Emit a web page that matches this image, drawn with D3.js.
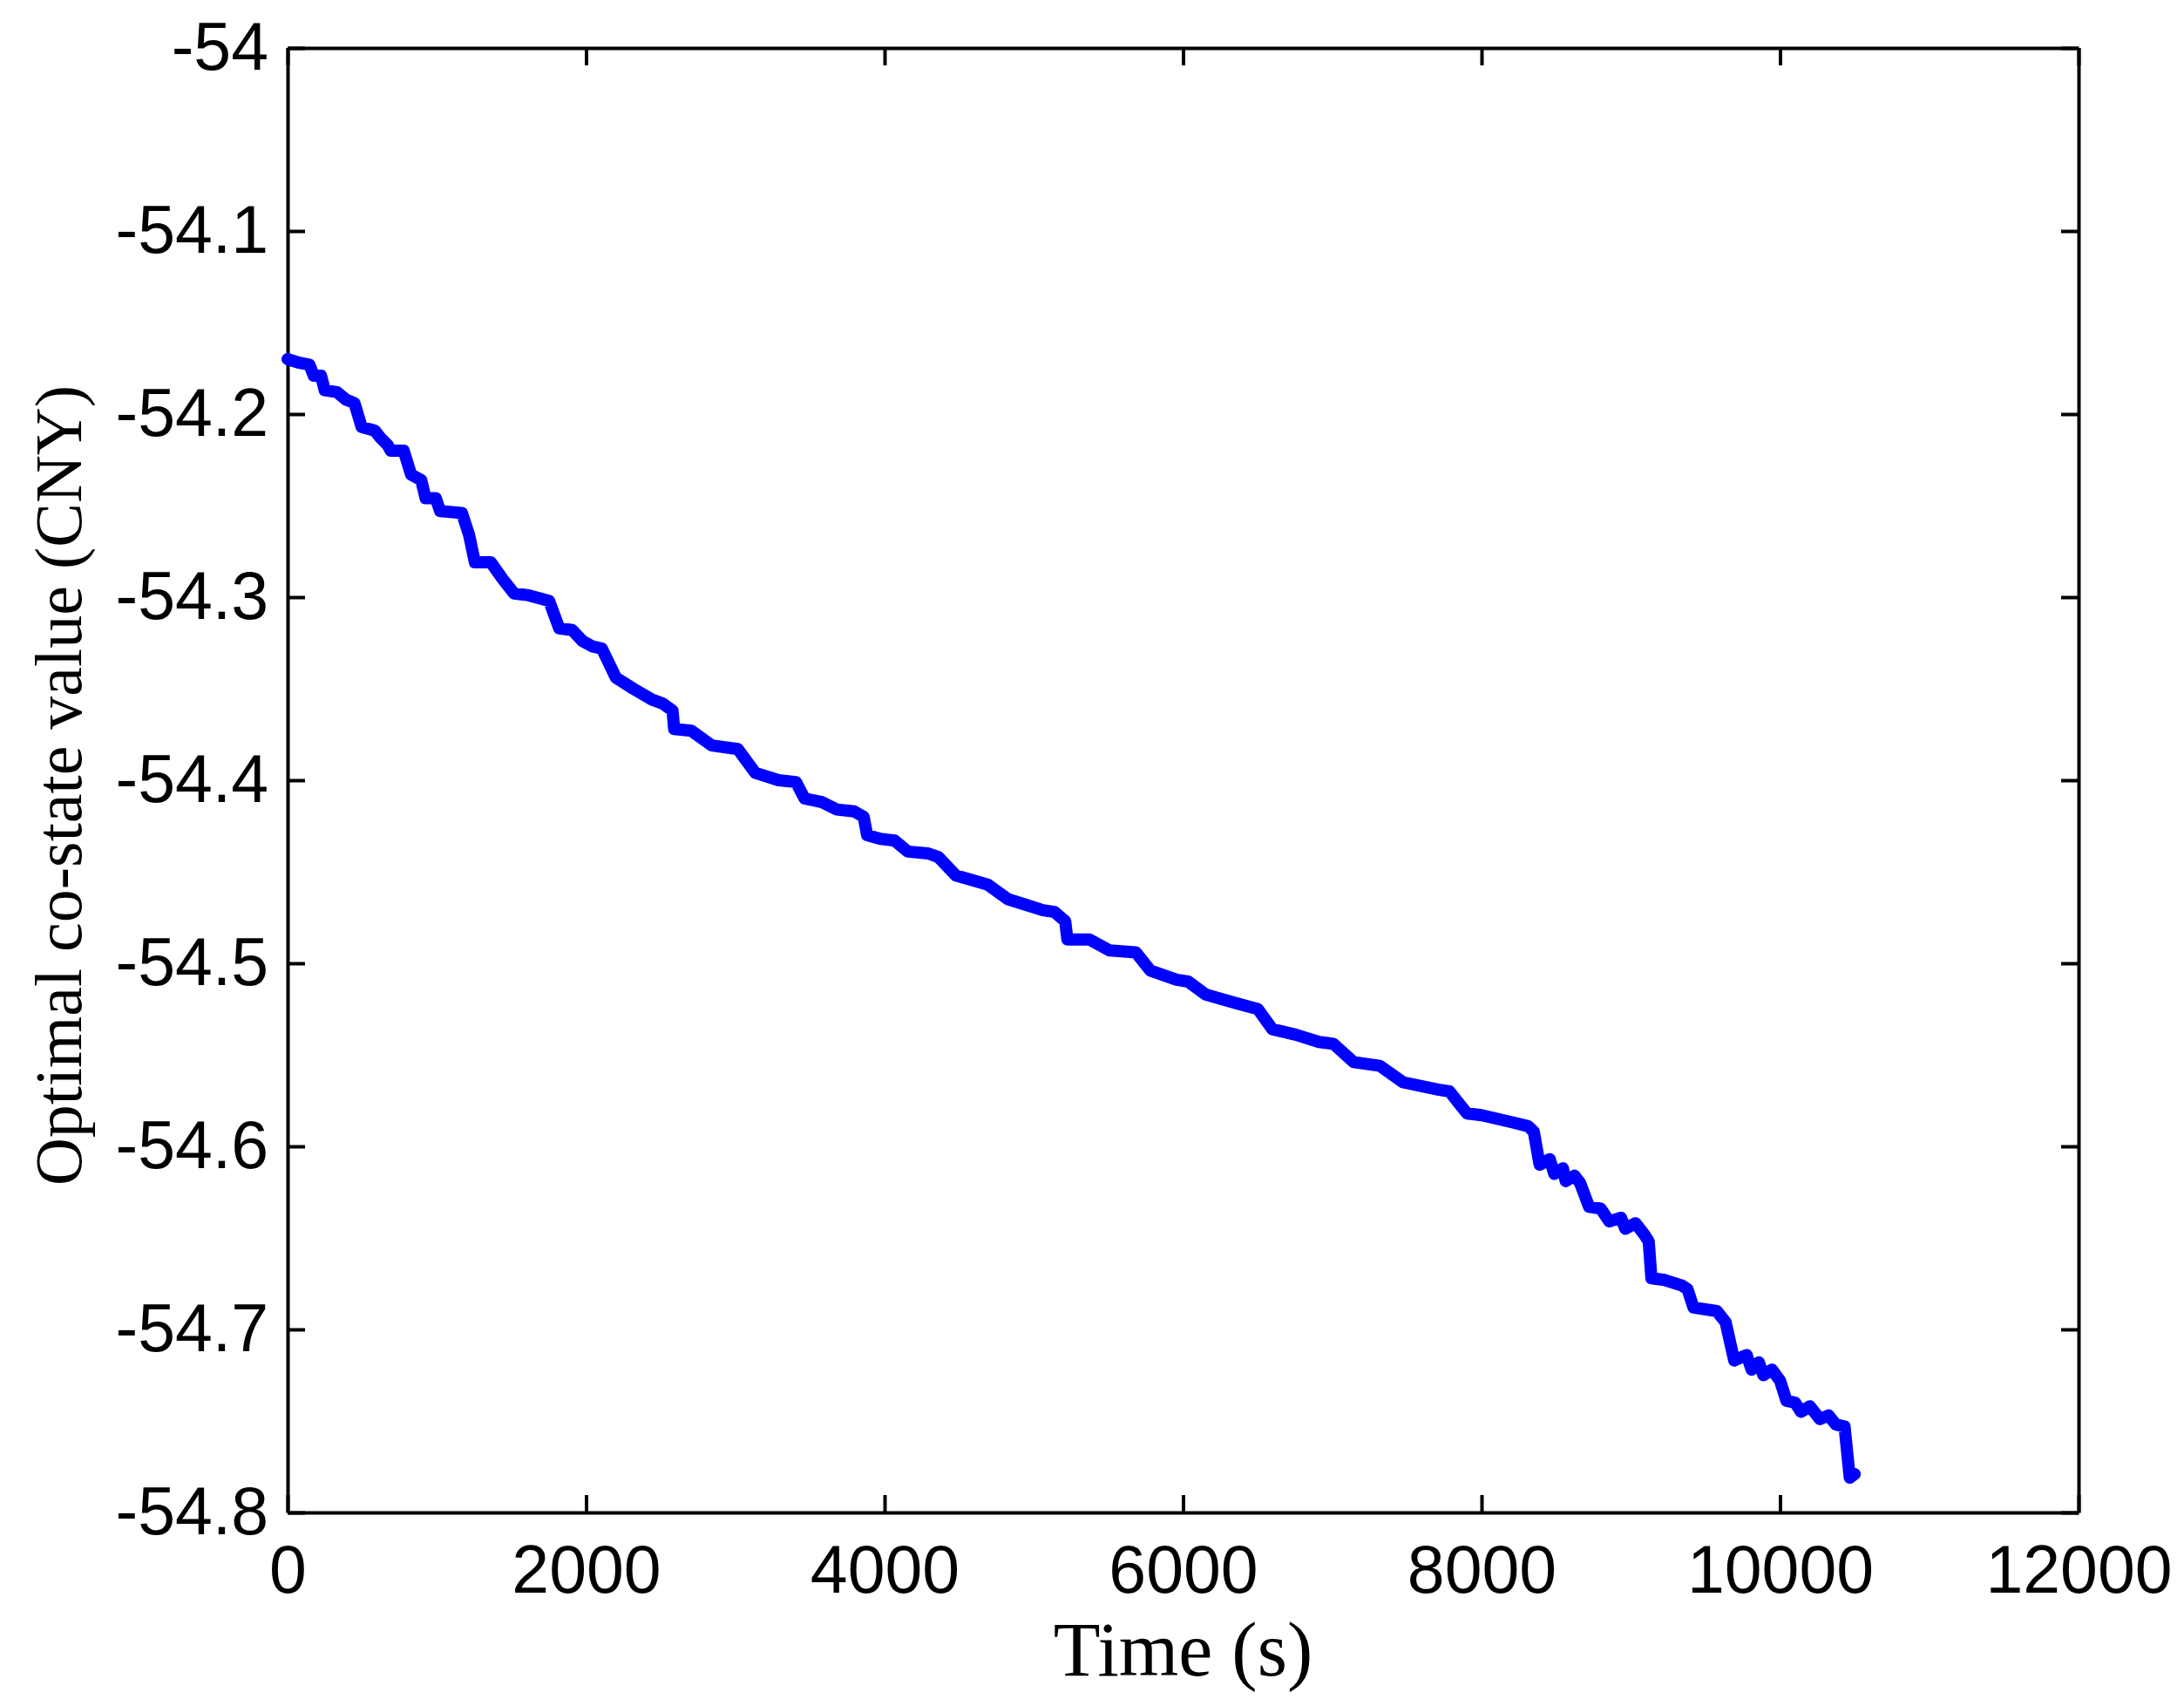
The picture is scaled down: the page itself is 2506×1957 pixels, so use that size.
<!DOCTYPE html>
<html>
<head>
<meta charset="utf-8">
<script src="https://cdn.jsdelivr.net/npm/d3@7"></script>
<style>
body{margin:0;background:#fff;}
.axis path,.axis line{stroke:#000;stroke-width:4;}
.axis text{font-family:"Liberation Sans",Arial,sans-serif;font-size:77px;fill:#000;}
.title{font-family:"Liberation Serif","Times New Roman",serif;fill:#000;}
</style>
</head>
<body>
<svg id="svg" width="2506" height="1957"></svg>
<script>
// time (s) and optimal co-state value (CNY)
var time=[0,80,146,175,224,249,331,389,448,496,584,623,671,691,778,827,895,925,993,1022,
    1168,1216,1255,1362,1440,1518,1616,1752,1820,1907,1976,2044,2105,2200,2316,2443,2511,2579,2590,2705,
    2842,3017,3134,3290,3406,3464,3581,3679,3796,3860,3883,3971,4068,4156,4292,4360,4477,4691,4827,4944,
    5061,5138,5210,5225,5372,5508,5683,5781,5956,6034,6150,6365,6501,6598,6754,6910,7007,7143,7318,7474,
    7708,7785,7902,8000,8214,8311,8350,8389,8457,8487,8545,8564,8623,8660,8720,8798,8856,8934,8963,9031,
    9089,9120,9138,9226,9342,9380,9420,9576,9635,9693,9776,9810,9858,9888,9946,10000,10043,10101,10140,10199,
    10267,10325,10374,10432,10467,10500];
var costate=[-54.170,-54.172,-54.173,-54.179,-54.179,-54.187,-54.188,-54.192,-54.194,-54.207,-54.209,-54.213,-54.217,-54.220,-54.220,-54.233,-54.236,-54.246,-54.246,-54.253,
    -54.254,-54.266,-54.281,-54.281,-54.290,-54.298,-54.299,-54.302,-54.317,-54.318,-54.324,-54.327,-54.328,-54.344,-54.350,-54.356,-54.358,-54.362,-54.372,-54.373,
    -54.381,-54.383,-54.396,-54.400,-54.401,-54.410,-54.412,-54.416,-54.417,-54.420,-54.430,-54.432,-54.433,-54.439,-54.440,-54.442,-54.452,-54.457,-54.465,-54.468,
    -54.471,-54.472,-54.477,-54.487,-54.487,-54.493,-54.494,-54.504,-54.509,-54.510,-54.517,-54.522,-54.525,-54.536,-54.539,-54.543,-54.544,-54.554,-54.556,-54.565,
    -54.569,-54.570,-54.582,-54.583,-54.587,-54.589,-54.592,-54.610,-54.607,-54.615,-54.612,-54.619,-54.616,-54.620,-54.633,-54.634,-54.641,-54.639,-54.645,-54.642,
    -54.648,-54.652,-54.672,-54.673,-54.676,-54.678,-54.688,-54.690,-54.696,-54.717,-54.714,-54.722,-54.718,-54.725,-54.722,-54.728,-54.739,-54.740,-54.745,-54.742,
    -54.749,-54.747,-54.752,-54.753,-54.781,-54.779];

var xTicks=[0,2000,4000,6000,8000,10000,12000];
var yTicks=[-54,-54.1,-54.2,-54.3,-54.4,-54.5,-54.6,-54.7,-54.8];
var yTickLabels=["-54","-54.1","-54.2","-54.3","-54.4","-54.5","-54.6","-54.7","-54.8"];

var svg=d3.select("#svg");

var padding={top:55, right:121, bottom:222, left:330};

var chartArea={
    "width": +svg.attr("width")-padding.left-padding.right,
    "height": +svg.attr("height")-padding.top-padding.bottom
};

var xScale=d3.scaleLinear()
    .domain([0,12000])
    .range([0,chartArea.width]);

var yScale=d3.scaleLinear()
    .domain([-54.8,-54])
    .range([chartArea.height,0]);

var g=svg.append("g")
    .attr('transform','translate('+padding.left+','+padding.top+')');

// x axis (bottom), ticks pointing in
g.append("g")
    .attr("class","axis")
    .attr('transform','translate(0,'+chartArea.height+')')
    .call(d3.axisBottom(xScale)
        .tickValues(xTicks)
        .tickSizeInner(-20).tickSizeOuter(0)
        .tickPadding(37)
        .tickFormat(function(d){return String(d);}));

// top border
g.append("g")
    .attr("class","axis")
    .call(d3.axisTop(xScale)
        .tickValues(xTicks)
        .tickSizeInner(-20).tickSizeOuter(0)
        .tickFormat(""));

// y axis (left)
g.append("g")
    .attr("class","axis")
    .call(d3.axisLeft(yScale)
        .tickValues(yTicks)
        .tickSizeInner(-20).tickSizeOuter(0)
        .tickPadding(22)
        .tickFormat(function(d,i){return yTickLabels[i];}));

// right border
g.append("g")
    .attr("class","axis")
    .attr('transform','translate('+chartArea.width+',0)')
    .call(d3.axisRight(yScale)
        .tickValues(yTicks)
        .tickSizeInner(-20).tickSizeOuter(0)
        .tickFormat(""));

svg.selectAll(".axis text").attr("font-family",null).attr("font-size",null);

// the co-state curve
var line=d3.line()
    .x(function(d,i){return xScale(time[i]);})
    .y(function(d){return yScale(d);});

g.append("path")
    .datum(costate)
    .attr("d",line)
    .attr("fill","none")
    .attr("stroke","#0000ff")
    .attr("stroke-width",14)
    .attr("stroke-linejoin","round")
    .attr("stroke-linecap","round");

// titles
svg.append("text")
    .attr("class","title")
    .attr("x",padding.left+chartArea.width/2)
    .attr("y",1922)
    .attr("text-anchor","middle")
    .attr("font-size",88)
    .text("Time (s)");

svg.append("text")
    .attr("class","title")
    .attr("transform","translate(67,901) rotate(-90)")
    .attr("text-anchor","middle")
    .attr("dominant-baseline","central")
    .attr("font-size",76)
    .text("Optimal co-state value (CNY)");
</script>
</body>
</html>
